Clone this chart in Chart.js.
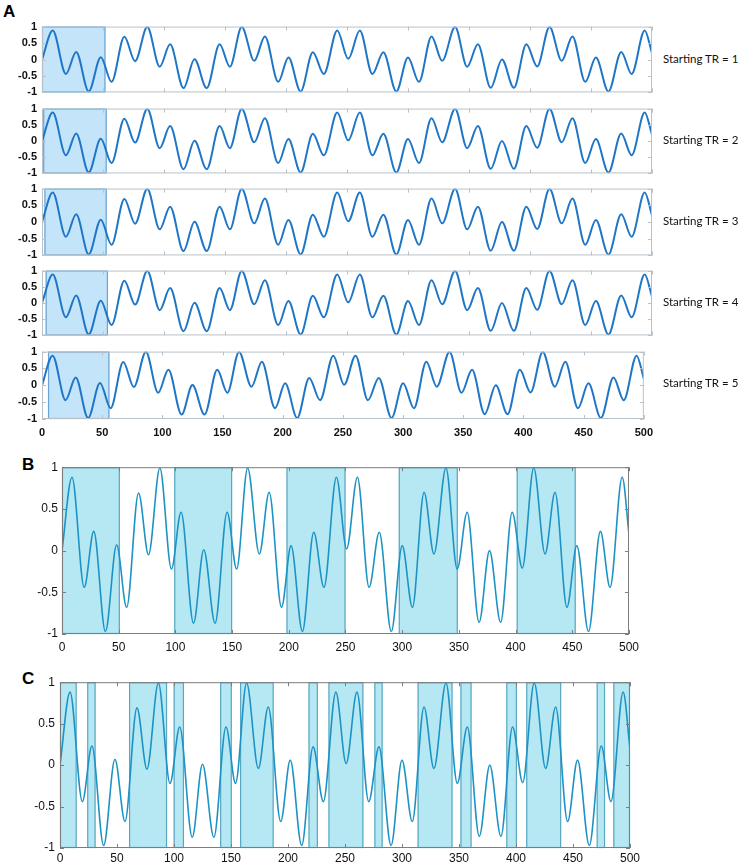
<!DOCTYPE html>
<html>
<head>
<meta charset="utf-8">
<script src="https://cdn.jsdelivr.net/npm/chart.js@4.4.0/dist/chart.umd.min.js"></script>
<style>
  body { margin: 0; background: #fff; width: 741px; height: 864px; position: relative; overflow: hidden; font-family: "Liberation Sans", Arial, sans-serif; }
  canvas { position: absolute; }
  .lbl { position: absolute; font-weight: bold; font-size: 17px; color: #000; }
  .tr { position: absolute; font-family: Lato, "Open Sans", sans-serif; font-size: 11.5px; color: #111; white-space: nowrap; }
</style>
</head>
<body>
<div class="lbl" style="left:3px;top:2px;">A</div>
<div class="lbl" style="left:22px;top:455px;">B</div>
<div class="lbl" style="left:22px;top:669px;">C</div>

<script>
const sigX = [0, 8.8, 19.6, 28, 38.3, 48.2, 57, 67.5, 76.3, 86.3,
  96.5, 105, 116, 125, 135, 145.6, 154, 163.7, 174, 182.7,
  193.6, 202, 212, 222, 231, 242, 251, 260.5, 270.8, 279.8,
  290.4, 300, 309, 319.3, 328, 338.6, 348.5, 357.3, 367.8, 377,
  386.8, 397, 405.9, 416, 426, 434.8, 445.3, 454, 464.3, 474.8,
  483.3, 494, 500];
const sigY = [0, 0.88, -0.44, 0.23, -0.97, 0.07, -0.68, 0.69, -0.05, 0.99,
  -0.22, 0.46, -0.87, 0.01, -0.87, 0.46, -0.22, 0.99, -0.04, 0.70,
  -0.68, 0.06, -0.97, 0.22, -0.44, 0.88, 0.02, 0.88, -0.44, 0.22,
  -0.97, 0.06, -0.68, 0.70, -0.04, 0.99, -0.22, 0.46, -0.86, 0.0,
  -0.86, 0.46, -0.21, 0.99, -0.04, 0.70, -0.68, 0.06, -0.97, 0.23,
  -0.44, 0.88, 0.2];

// panel A: one window per starting TR
const startingTR = [1, 2, 3, 4, 5];
const aStarts = [0, 1, 2, 3, 5];
const aEnds = [52, 53, 53, 54, 56];

// panel B: regular windows
const bStarts = [0, 99, 198, 297, 401];
const bEnds = [51, 150, 250, 349, 453];

// panel C: windows around the peaks
const cStarts = [0, 23.9, 60.6, 99.7, 140.5, 158, 218, 235.5, 275.8, 313.7, 351.3, 391.5, 409, 470.8, 485.4];
const cEnds = [14.6, 31.2, 93.9, 108.7, 150.7, 187.4, 226.2, 266.1, 283, 344.3, 361, 400.8, 439.6, 478.1, 500];

const xTicks = [0, 50, 100, 150, 200, 250, 300, 350, 400, 450, 500];
const yTicks = [-1, -0.5, 0, 0.5, 1];

const points = sigX.map((x, i) => ({ x: x, y: sigY[i] }));

const shadePlugin = {
  id: 'shade',
  beforeDatasetsDraw(chart, args, opts) {
    const { ctx, scales: { x, y } } = chart;
    ctx.save();
    ctx.fillStyle = opts.fill;
    ctx.strokeStyle = opts.stroke;
    ctx.lineWidth = 1.2;
    opts.starts.forEach((s, i) => {
      const x0 = x.getPixelForValue(s), x1 = x.getPixelForValue(opts.ends[i]);
      const y0 = y.getPixelForValue(1), y1 = y.getPixelForValue(-1);
      ctx.fillRect(x0, y0, x1 - x0, y1 - y0);
      ctx.strokeRect(x0 + 0.5, y0 + 0.5, x1 - x0 - 1, y1 - y0 - 1);
    });
    ctx.restore();
  }
};

const framePlugin = {
  id: 'frame',
  afterDatasetsDraw(chart, args, opts) {
    const { ctx, chartArea: a, scales: { x, y } } = chart;
    ctx.save();
    ctx.strokeStyle = opts.color;
    ctx.lineWidth = 1;
    ctx.strokeRect(a.left + 0.5, a.top + 0.5, a.right - a.left - 1, a.bottom - a.top - 1);
    ctx.beginPath();
    xTicks.forEach(v => {
      const px = Math.round(x.getPixelForValue(v)) + 0.5;
      ctx.moveTo(px, a.top); ctx.lineTo(px, a.top + 4);
      ctx.moveTo(px, a.bottom); ctx.lineTo(px, a.bottom - 4);
    });
    yTicks.forEach(v => {
      const py = Math.round(y.getPixelForValue(v)) + 0.5;
      ctx.moveTo(a.left, py); ctx.lineTo(a.left + 4, py);
      ctx.moveTo(a.right, py); ctx.lineTo(a.right - 4, py);
    });
    ctx.stroke();
    ctx.restore();
  }
};

function makeChart(cfg) {
  const cv = document.createElement('canvas');
  cv.width = cfg.w; cv.height = cfg.h;
  cv.style.left = cfg.left + 'px'; cv.style.top = cfg.top + 'px';
  cv.style.width = cfg.w + 'px'; cv.style.height = cfg.h + 'px';
  document.body.appendChild(cv);
  return new Chart(cv.getContext('2d'), {
    type: 'line',
    data: {
      datasets: [{
        data: points,
        borderColor: cfg.lineColor,
        borderWidth: cfg.lineWidth,
        pointRadius: 0,
        cubicInterpolationMode: 'monotone',
        fill: false
      }]
    },
    options: {
      responsive: false,
      animation: false,
      devicePixelRatio: 1,
      layout: { padding: { top: 8, right: cfg.padRight, bottom: cfg.padBottom, left: 0 } },
      plugins: {
        legend: { display: false },
        tooltip: { enabled: false },
        shade: { starts: cfg.starts, ends: cfg.ends, fill: cfg.shadeFill, stroke: cfg.shadeStroke },
        frame: { color: cfg.frameColor }
      },
      scales: {
        x: {
          type: 'linear', min: 0, max: 500,
          grid: { display: false, drawTicks: false },
          border: { display: false },
          ticks: {
            display: cfg.showX, stepSize: 50, padding: cfg.xPad,
            color: '#111', font: cfg.font, maxRotation: 0, autoSkip: false
          },
          afterFit: s => { s.height = cfg.xH; }
        },
        y: {
          min: -1, max: 1,
          grid: { display: false, drawTicks: false },
          border: { display: false },
          ticks: {
            stepSize: 0.5, padding: cfg.yPad, color: '#111', font: cfg.font,
            callback: v => String(v)
          },
          afterFit: s => { s.width = cfg.yW; }
        }
      }
    },
    plugins: [shadePlugin, framePlugin]
  });
}

// panel A rows
const rowTop = [23, 105, 185, 267, 348];
const rowBottom = [96, 177, 259, 339, 419];
const fontA = { family: '"Liberation Sans", Arial, sans-serif', size: 11, weight: 'bold' };
startingTR.forEach((tr, i) => {
  const last = i === startingTR.length - 1;
  const xH = last ? 22 : 0;
  makeChart({
    left: 0, top: rowTop[i] - 8, w: 660,
    h: rowBottom[i] - rowTop[i] + 8 + (last ? xH : 8),
    padRight: 8, padBottom: last ? 0 : 8,
    yW: 42, xH: xH, showX: last, xPad: 7, yPad: 5, font: fontA,
    lineColor: '#1f76c6', lineWidth: 2,
    starts: [aStarts[i]], ends: [aEnds[i]],
    shadeFill: '#c4e5f9', shadeStroke: '#6aa3d2', frameColor: '#b9c1c9'
  });
  const d = document.createElement('div');
  d.className = 'tr';
  d.textContent = 'Starting TR = ' + tr;
  d.style.left = '663px';
  d.style.top = ((rowTop[i] + rowBottom[i]) / 2 - 8) + 'px';
  document.body.appendChild(d);
});

const fontBC = { family: '"Liberation Sans", Arial, sans-serif', size: 12 };

// panel B
makeChart({
  left: 0, top: 456, w: 645, h: 8 + 170 + 22,
  padRight: 11, padBottom: 0, yW: 62, xH: 22, showX: true, xPad: 6, yPad: 4, font: fontBC,
  lineColor: '#1d93c5', lineWidth: 1.6,
  starts: bStarts, ends: bEnds,
  shadeFill: '#b6e8f4', shadeStroke: '#5aa7c1', frameColor: '#7d7d7d'
});

// panel C
makeChart({
  left: 0, top: 670, w: 643, h: 8 + 170 + 16,
  padRight: 11, padBottom: 0, yW: 60, xH: 16, showX: true, xPad: 3, yPad: 5, font: fontBC,
  lineColor: '#1d93c5', lineWidth: 1.6,
  starts: cStarts, ends: cEnds,
  shadeFill: '#b6e8f4', shadeStroke: '#5aa7c1', frameColor: '#7d7d7d'
});
</script>
</body>
</html>
